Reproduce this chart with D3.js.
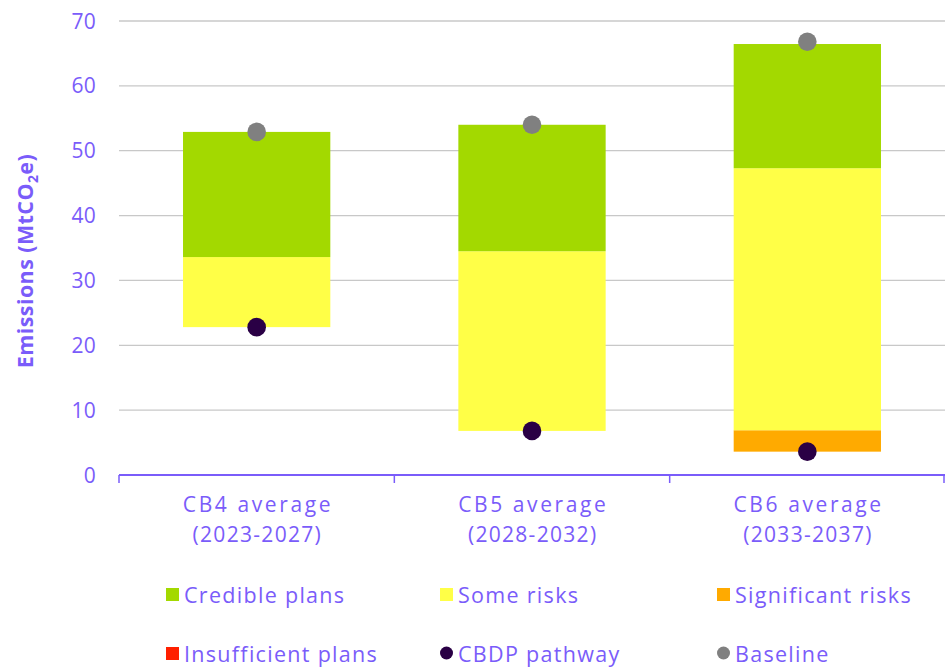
<!DOCTYPE html>
<html>
<head>
<meta charset="utf-8">
<script src="https://cdn.jsdelivr.net/npm/d3@7"></script>
<style>
  html, body { margin: 0; padding: 0; background: #fff; }
  svg { display: block; font-family: "Open Sans", "Lato", sans-serif; }
</style>
</head>
<body>
<svg id="chart" width="945" height="670"></svg>
<script>
// ---- data ----
const categories = ["CB4 average\n(2023-2027)", "CB5 average\n(2028-2032)", "CB6 average\n(2033-2037)"];
const stackBase = [22.8, 6.8, 3.6];          // invisible offset
const insufficientPlans = [0, 0, 0];
const significantRisks = [0, 0, 3.3];
const someRisks = [10.8, 27.7, 40.4];
const crediblePlans = [19.3, 19.5, 19.15];
const cbdpPathway = [22.8, 6.8, 3.6];
const baseline = [52.9, 54.0, 66.8];
const yTicks = [0, 10, 20, 30, 40, 50, 60, 70];
const legendItems = ["Credible plans", "Some risks", "Significant risks", "Insufficient plans", "CBDP pathway", "Baseline"];

const seriesKeys = ["base", "insufficient", "significant", "some", "credible"];
const colors = {
  base: "none",
  insufficient: "#FF2000",
  significant: "#FFAA00",
  some: "#FFFF47",
  credible: "#A3D900"
};
const textColor = "#7A5CFA";

const rows = categories.map((c, i) => ({
  cat: c,
  base: stackBase[i],
  insufficient: insufficientPlans[i],
  significant: significantRisks[i],
  some: someRisks[i],
  credible: crediblePlans[i]
}));

const svg = d3.select("#chart");
const margin = { left: 119, right: 0, top: 21, bottom: 195 };
const W = 945, H = 670;

const x = d3.scaleBand().domain(categories).range([margin.left, W]).paddingInner(0.465).paddingOuter(0.2325);
const xOuter = d3.scaleBand().domain(categories).range([margin.left, W]).padding(0);
const y = d3.scaleLinear().domain([0, 70]).range([475, 21]);

// gridlines
svg.append("g").selectAll("line").data(yTicks.filter(t => t > 0)).join("line")
  .attr("x1", margin.left).attr("x2", W)
  .attr("y1", d => y(d)).attr("y2", d => y(d))
  .attr("stroke", "#C8C8C8").attr("stroke-width", 1.3);

// y tick labels
svg.append("g").selectAll("text").data(yTicks).join("text")
  .attr("x", 96).attr("y", d => y(d)).attr("dy", "0.36em")
  .attr("text-anchor", "end").attr("fill", textColor)
  .attr("font-size", 21).attr("letter-spacing", 0.3).text(d => d);

// stacked bars
const stack = d3.stack().keys(seriesKeys)(rows);
svg.append("g").selectAll("g").data(stack).join("g")
  .attr("fill", d => colors[d.key])
  .selectAll("rect").data(d => d.filter(v => v[1] - v[0] > 0)).join("rect")
  .attr("x", d => x(d.data.cat))
  .attr("width", x.bandwidth())
  .attr("y", d => y(d[1]))
  .attr("height", d => y(d[0]) - y(d[1]));

// x axis
const axisG = svg.append("g");
axisG.append("line").attr("x1", margin.left).attr("x2", W).attr("y1", y(0)).attr("y2", y(0))
  .attr("stroke", textColor).attr("stroke-width", 2);
const tickXs = categories.map(c => xOuter(c)).concat([xOuter(categories[2]) + xOuter.bandwidth() - 1]);
axisG.selectAll("line.tick").data(tickXs).join("line").attr("class", "tick")
  .attr("x1", d => d).attr("x2", d => d).attr("y1", y(0)).attr("y2", y(0) + 8)
  .attr("stroke", textColor).attr("stroke-width", 1.5);
const catText = axisG.selectAll("text.cat").data(categories).join("text").attr("class", "cat")
  .attr("text-anchor", "middle").attr("fill", textColor).attr("font-size", 21);
catText.each(function(d) {
  const lines = d.split("\n");
  const t = d3.select(this);
  lines.forEach((l, i) => {
    const ls = i === 0 ? 2.6 : 1.3;
    t.append("tspan").attr("x", xOuter(d) + xOuter.bandwidth() / 2 + ls / 2)
      .attr("y", 512 + i * 30).attr("letter-spacing", ls).text(l);
  });
});

// dots
const cx = c => x(c) + x.bandwidth() / 2;
svg.append("g").selectAll("circle").data(categories).join("circle")
  .attr("cx", d => cx(d)).attr("cy", (d, i) => y(baseline[i])).attr("r", 9.3).attr("fill", "#808080");
svg.append("g").selectAll("circle").data(categories).join("circle")
  .attr("cx", d => cx(d)).attr("cy", (d, i) => y(cbdpPathway[i])).attr("r", 9.3).attr("fill", "#2A0045");

// y axis title
svg.append("text")
  .attr("transform", "translate(33,261) rotate(-90)")
  .attr("text-anchor", "middle").attr("fill", textColor)
  .attr("font-size", 21.5).attr("font-weight", "bold").attr("letter-spacing", 0.4)
  .html('Emissions (MtCO<tspan font-size="14" dy="5">2</tspan><tspan dy="-5">e)</tspan>');

// legend
const legendColors = ["#A3D900", "#FFFF47", "#FFAA00", "#FF2000", "#2A0045", "#808080"];
const legendShape = ["rect", "rect", "rect", "rect", "circle", "circle"];
const colX = [166, 440, 717];
const rowY = [595, 654];
const lg = svg.append("g");
legendItems.forEach((name, i) => {
  const cxp = colX[i % 3], cy = rowY[Math.floor(i / 3)];
  if (legendShape[i] === "rect") {
    lg.append("rect").attr("x", cxp).attr("y", cy - 7).attr("width", 13).attr("height", 13).attr("fill", legendColors[i]);
  } else {
    lg.append("circle").attr("cx", cxp + 6.5).attr("cy", cy - 1).attr("r", 6.5).attr("fill", legendColors[i]);
  }
  lg.append("text").attr("x", cxp + 18).attr("y", cy).attr("dy", "0.35em")
    .attr("fill", textColor).attr("font-size", 21.5).attr("letter-spacing", 1.3).text(name);
});
</script>
</body>
</html>
